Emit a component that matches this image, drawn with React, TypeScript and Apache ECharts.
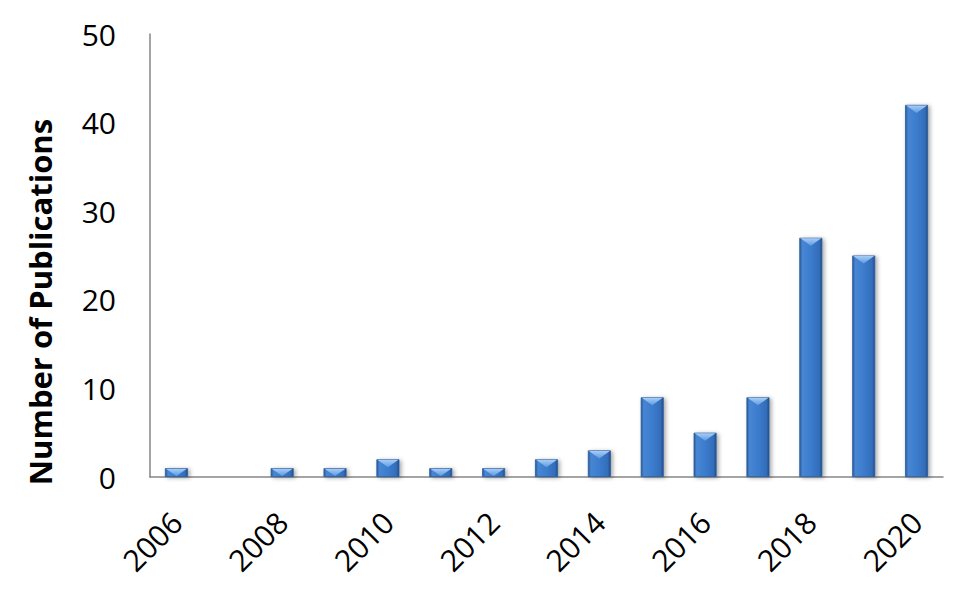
import React, { useEffect, useRef } from 'react';
import * as echarts from 'echarts';
import type { EChartsType } from 'echarts';

const years = ['2006', '2007', '2008', '2009', '2010', '2011', '2012', '2013', '2014', '2015', '2016', '2017', '2018', '2019', '2020'];
const publications = [1, 0, 1, 1, 2, 1, 1, 2, 3, 9, 5, 9, 27, 25, 42];
const yTicks = [0, 10, 20, 30, 40, 50];

const FONT = '"Open Sans", sans-serif';

const PublicationsChart = () => {
  const chartRef = useRef<HTMLDivElement>(null);

  useEffect(() => {
    document.body.style.margin = '0';
    let chartInstance: EChartsType | null = null;

    if (chartRef.current) {
      chartInstance = echarts.init(chartRef.current, null, { renderer: 'svg' });

      const option = {
        animation: false,
        grid: { left: 150, right: 23, top: 34, bottom: 123 },
        xAxis: {
          type: 'category',
          data: years,
          axisLine: { lineStyle: { color: '#868686', width: 1.5 } },
          axisTick: { show: false },
          axisLabel: {
            interval: 1,
            rotate: 45,
            margin: 40,
            color: '#000',
            fontSize: 30,
            fontFamily: FONT
          }
        },
        yAxis: {
          type: 'value',
          min: yTicks[0],
          max: yTicks[yTicks.length - 1],
          interval: 10,
          splitLine: { show: false },
          axisLine: { show: true, lineStyle: { color: '#868686', width: 1.5 } },
          axisTick: { show: false },
          axisLabel: {
            margin: 34,
            color: '#000',
            fontSize: 30,
            fontFamily: FONT
          }
        },
        graphic: [
          {
            type: 'text',
            x: 40,
            y: 302,
            rotation: Math.PI / 2,
            style: {
              text: 'Number of Publications',
              fontSize: 31,
              fontWeight: 'bold',
              fontFamily: FONT,
              fill: '#000',
              align: 'center',
              verticalAlign: 'middle'
            }
          }
        ],
        series: [
          {
            type: 'bar',
            data: publications,
            barWidth: 23,
            itemStyle: {
              color: new echarts.graphic.LinearGradient(0, 0, 1, 0, [
                { offset: 0, color: '#2a5996' },
                { offset: 0.12, color: '#4786d4' },
                { offset: 0.5, color: '#3c7ccd' },
                { offset: 0.88, color: '#336dba' },
                { offset: 1, color: '#234d87' }
              ]),
              borderColor: '#2c5c9c',
              borderWidth: 0.8,
              shadowColor: 'rgba(0,0,0,0.35)',
              shadowBlur: 4,
              shadowOffsetX: 2,
              shadowOffsetY: 1
            }
          },
          {
            type: 'custom',
            data: publications,
            z: 3,
            silent: true,
            renderItem: (params: any, api: any) => {
              const v = api.value(1);
              if (!v) return null;
              const top = api.coord([api.value(0), v]);
              const base = api.coord([api.value(0), 0]);
              const w = 23;
              const h = Math.min(8, (base[1] - top[1]) - 1);
              const x0 = top[0] - w / 2 + 1;
              const x1 = top[0] + w / 2 - 1;
              return {
                type: 'polygon',
                shape: {
                  points: [
                    [x0, top[1] + 0.5],
                    [x1, top[1] + 0.5],
                    [top[0], top[1] + h]
                  ]
                },
                style: {
                  fill: new echarts.graphic.LinearGradient(0, 0, 0, 1, [
                    { offset: 0, color: '#a8cdf5' },
                    { offset: 1, color: '#5d9be2' }
                  ])
                }
              };
            },
            encode: { x: 0, y: 1 }
          }
        ]
      };

      chartInstance.setOption(option as any);
    }

    return () => {
      chartInstance?.dispose();
    };
  }, []);

  return <div ref={chartRef} style={{ width: '966px', height: '600px' }}></div>;
};

export default function App() {
  return <PublicationsChart />;
}
